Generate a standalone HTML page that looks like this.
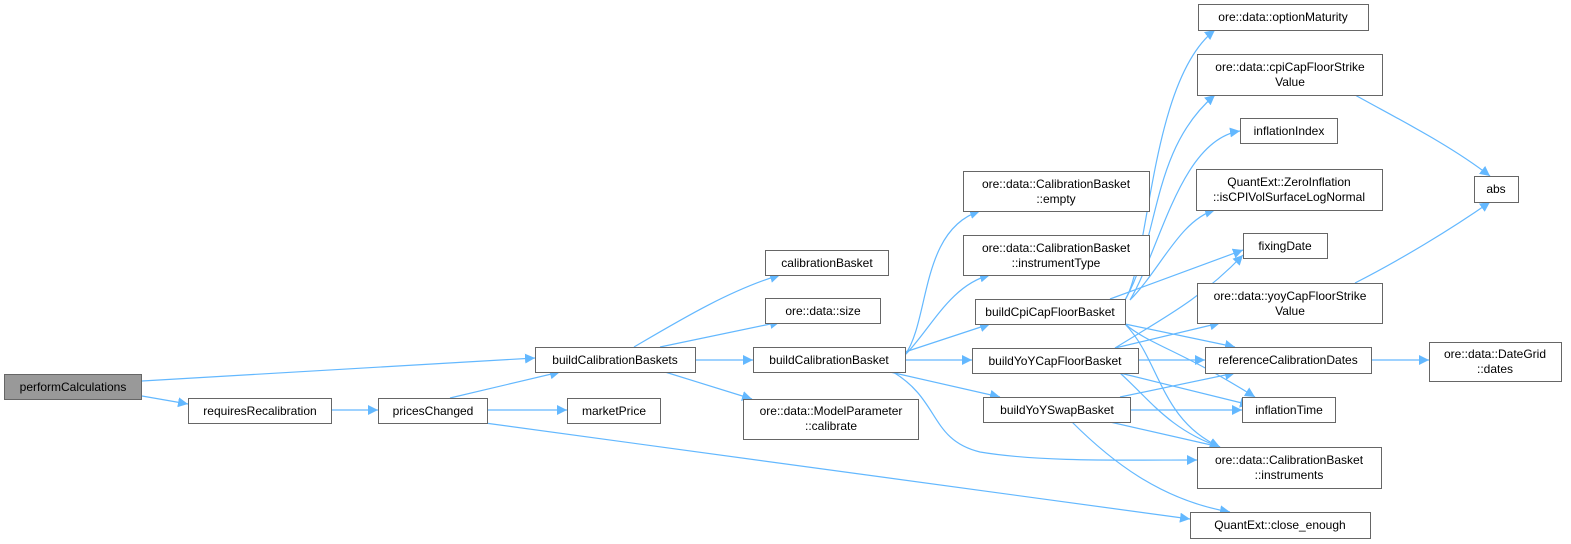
<!DOCTYPE html>
<html><head><meta charset="utf-8"><style>
body{margin:0;background:#fff}
svg{display:block}
text{font-family:"Liberation Sans",Arial,sans-serif;font-size:12px;fill:#000;text-anchor:middle}
.n{fill:#fff;stroke:#666;stroke-width:1}
.e{fill:none;stroke:#63b8ff;stroke-width:1.2}
</style></head><body>
<svg width="1571" height="544" viewBox="0 0 1571 544">
<defs><marker id="a" viewBox="0 0 10 10" refX="10" refY="5" markerWidth="10" markerHeight="10" markerUnits="userSpaceOnUse" orient="auto"><path d="M0,0L10,5L0,10z" fill="#63b8ff"/></marker></defs>
<g class="e" marker-end="url(#a)">
<path d="M142,381L535,358"/>
<path d="M142,396L188,404"/>
<path d="M331,410L378,410"/>
<path d="M450,398L560,372"/>
<path d="M487,410L567,410"/>
<path d="M485,423L1190,519"/>
<path d="M634,347C680,320 730,290 780,275"/>
<path d="M660,347L780,322"/>
<path d="M695,360L753,360"/>
<path d="M665,372L752,399"/>
<path d="M905,355C930,320 920,230 980,211"/>
<path d="M905,355C930,330 950,285 990,275"/>
<path d="M905,352L990,324"/>
<path d="M905,360L972,360"/>
<path d="M890,372L1000,397"/>
<path d="M893,372C940,400 930,440 980,452C1040,462 1120,460 1197,460"/>
<path d="M1125,300C1150,260 1150,80 1215,30"/>
<path d="M1125,300C1160,240 1150,150 1215,95"/>
<path d="M1130,300C1160,250 1180,140 1240,131"/>
<path d="M1130,300C1160,270 1180,220 1215,210"/>
<path d="M1110,299L1243,250"/>
<path d="M1125,324L1235,347"/>
<path d="M1125,324C1150,345 1180,350 1255,397"/>
<path d="M1125,324C1160,360 1160,420 1220,447"/>
<path d="M1115,348C1160,320 1200,300 1243,255"/>
<path d="M1115,348L1220,323"/>
<path d="M1138,360L1205,360"/>
<path d="M1120,373L1250,405"/>
<path d="M1120,373C1150,400 1170,430 1220,447"/>
<path d="M1120,397L1235,373"/>
<path d="M1130,410L1242,410"/>
<path d="M1110,422L1220,447"/>
<path d="M1072,422C1110,460 1160,500 1230,512"/>
<path d="M1355,95C1400,120 1450,145 1490,176"/>
<path d="M1355,283C1400,260 1450,230 1490,202"/>
<path d="M1371,360L1429,360"/>
</g>
<rect x="4.5" y="374.5" width="137" height="25" fill="#999" stroke="#666"/>
<text x="73" y="391">performCalculations</text>
<g>
<rect class="n" x="535.5" y="347.5" width="160" height="25"/><text x="615" y="364">buildCalibrationBaskets</text>
<rect class="n" x="188.5" y="398.5" width="143" height="25"/><text x="260" y="415">requiresRecalibration</text>
<rect class="n" x="378.5" y="398.5" width="109" height="25"/><text x="433" y="415">pricesChanged</text>
<rect class="n" x="567.5" y="398.5" width="93" height="25"/><text x="614" y="415">marketPrice</text>
<rect class="n" x="765.5" y="250.5" width="123" height="25"/><text x="827" y="267">calibrationBasket</text>
<rect class="n" x="765.5" y="298.5" width="115" height="25"/><text x="823" y="315">ore::data::size</text>
<rect class="n" x="753.5" y="347.5" width="152" height="25"/><text x="829" y="364">buildCalibrationBasket</text>
<rect class="n" x="743.5" y="399.5" width="175" height="40"/><text x="831" y="415">ore::data::ModelParameter</text><text x="831" y="430">::calibrate</text>
<rect class="n" x="963.5" y="171.5" width="186" height="40"/><text x="1056" y="188">ore::data::CalibrationBasket</text><text x="1056" y="203">::empty</text>
<rect class="n" x="963.5" y="235.5" width="186" height="40"/><text x="1056" y="252">ore::data::CalibrationBasket</text><text x="1056" y="267">::instrumentType</text>
<rect class="n" x="975.5" y="299.5" width="150" height="25"/><text x="1050" y="316">buildCpiCapFloorBasket</text>
<rect class="n" x="972.5" y="348.5" width="166" height="25"/><text x="1055" y="365">buildYoYCapFloorBasket</text>
<rect class="n" x="983.5" y="397.5" width="147" height="25"/><text x="1057" y="414">buildYoYSwapBasket</text>
<rect class="n" x="1198.5" y="4.5" width="170" height="26"/><text x="1283" y="21">ore::data::optionMaturity</text>
<rect class="n" x="1197.5" y="54.5" width="185" height="41"/><text x="1290" y="71">ore::data::cpiCapFloorStrike</text><text x="1290" y="86">Value</text>
<rect class="n" x="1240.5" y="118.5" width="97" height="25"/><text x="1289" y="135">inflationIndex</text>
<rect class="n" x="1196.5" y="169.5" width="186" height="41"/><text x="1289" y="186">QuantExt::ZeroInflation</text><text x="1289" y="201">::isCPIVolSurfaceLogNormal</text>
<rect class="n" x="1243.5" y="233.5" width="84" height="25"/><text x="1285" y="250">fixingDate</text>
<rect class="n" x="1197.5" y="283.5" width="185" height="40"/><text x="1290" y="300">ore::data::yoyCapFloorStrike</text><text x="1290" y="315">Value</text>
<rect class="n" x="1205.5" y="347.5" width="166" height="26"/><text x="1288" y="364">referenceCalibrationDates</text>
<rect class="n" x="1242.5" y="397.5" width="93" height="25"/><text x="1289" y="414">inflationTime</text>
<rect class="n" x="1197.5" y="447.5" width="184" height="41"/><text x="1289" y="464">ore::data::CalibrationBasket</text><text x="1289" y="479">::instruments</text>
<rect class="n" x="1190.5" y="512.5" width="180" height="26"/><text x="1280" y="529">QuantExt::close_enough</text>
<rect class="n" x="1474.5" y="176.5" width="44" height="26"/><text x="1496" y="193">abs</text>
<rect class="n" x="1429.5" y="342.5" width="132" height="39"/><text x="1495" y="358">ore::data::DateGrid</text><text x="1495" y="373">::dates</text>
</g>
</svg>
</body></html>
